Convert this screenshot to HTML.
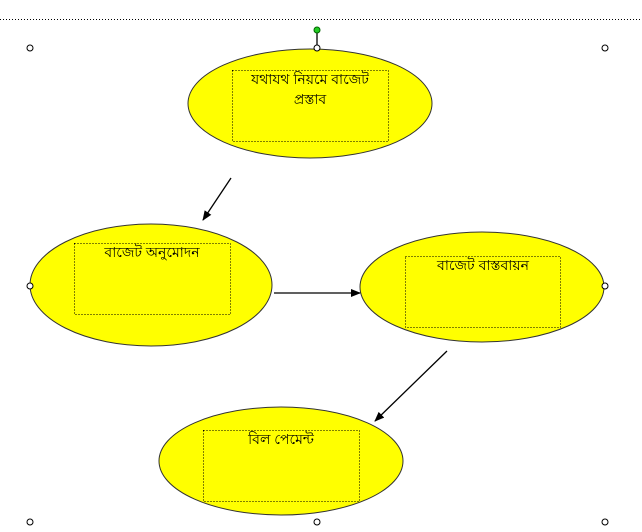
<!DOCTYPE html>
<html><head><meta charset="utf-8"><style>body{margin:0;background:#fff}svg{display:block}text{font-family:"Liberation Sans",sans-serif;font-size:14px;fill:#000}</style></head><body>
<svg width="642" height="532" viewBox="0 0 642 532">
<defs><marker id="a" markerWidth="10" markerHeight="8" refX="9" refY="4" orient="auto" markerUnits="userSpaceOnUse"><path d="M0,0 L10,4 L0,8z" fill="#000"/></marker></defs>
<line x1="0" y1="19.5" x2="642" y2="19.5" stroke="#000" stroke-dasharray="1,2"/>
<g stroke="#333" fill="#ffff00">
<ellipse cx="310" cy="103.5" rx="122" ry="54.5"/>
<ellipse cx="151" cy="285" rx="121" ry="61"/>
<ellipse cx="482" cy="287" rx="122" ry="55"/>
<ellipse cx="281" cy="461" rx="122" ry="54"/>
</g>
<g fill="none" stroke="#000" stroke-dasharray="1,2">
<rect x="232.5" y="70.5" width="156" height="71"/>
<rect x="74.5" y="243.5" width="156" height="71"/>
<rect x="405.5" y="256.5" width="155" height="71"/>
<rect x="203.5" y="430.5" width="156" height="71"/>
</g>
<g text-anchor="middle">
<text x="310" y="84">যথাযথ নিয়মে বাজেট</text>
<text x="310" y="104">প্রস্তাব</text>
<text x="152" y="257">বাজেট অনুমোদন</text>
<text x="483" y="270">বাজেট বাস্তবায়ন</text>
<text x="281" y="444">বিল পেমেন্ট</text>
</g>
<g stroke="#000" stroke-width="1.3">
<line x1="231" y1="178" x2="203" y2="220" marker-end="url(#a)"/>
<line x1="274" y1="293" x2="360" y2="293" marker-end="url(#a)"/>
<line x1="447" y1="351" x2="375" y2="421" marker-end="url(#a)"/>
<line x1="317" y1="30" x2="317" y2="48"/>
</g>
<g fill="#fff" stroke="#000">
<circle cx="30" cy="48" r="3"/><circle cx="317" cy="48" r="3"/><circle cx="605" cy="48" r="3"/>
<circle cx="30" cy="286" r="3"/><circle cx="605" cy="286" r="3"/>
<circle cx="30" cy="522" r="3"/><circle cx="317" cy="522" r="3"/><circle cx="605" cy="522" r="3"/>
</g>
<circle cx="317" cy="30" r="3" fill="#2c2" stroke="#060"/>
</svg>
</body></html>
